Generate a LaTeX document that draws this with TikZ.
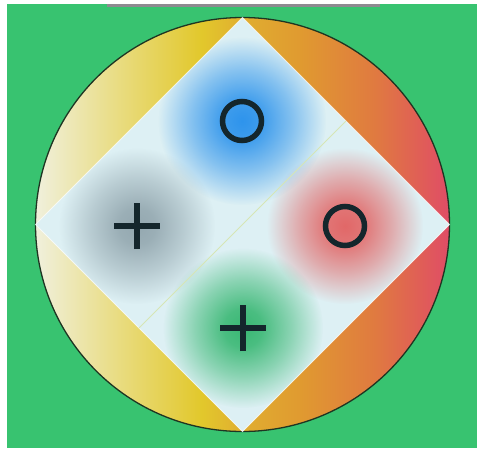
\documentclass[tikz,border=0pt]{standalone}
\usetikzlibrary{fadings,calc}
\definecolor{bg}{HTML}{38C370}
\definecolor{barc}{HTML}{8E8A90}
\definecolor{rimc}{HTML}{1E3522}
\definecolor{diam}{HTML}{DDF0F4}
\definecolor{g1}{HTML}{F0F0DC}
\definecolor{g2}{HTML}{E8DA78}
\definecolor{g3}{HTML}{E2C82C}
\definecolor{g4}{HTML}{E0AE30}
\definecolor{g5}{HTML}{E09A30}
\definecolor{g6}{HTML}{E07A40}
\definecolor{g7}{HTML}{E04C66}
\definecolor{blueg}{HTML}{2E94EC}
\definecolor{grayg}{HTML}{94A8B0}
\definecolor{redg}{HTML}{E26868}
\definecolor{greeng}{HTML}{3AB874}
\definecolor{symc}{HTML}{14262C}
\definecolor{splitc}{HTML}{D6E6B4}
\pgfdeclarehorizontalshading{circgrad}{100bp}{color(0bp)=(g1); color(25bp)=(g1); color(36bp)=(g2); color(45bp)=(g3); color(50bp)=(g4); color(57bp)=(g5); color(66bp)=(g6); color(75bp)=(g7); color(100bp)=(g7)}
\pgfdeclareradialshading{glowsh}{\pgfpointorigin}{color(0bp)=(pgftransparent!0); color(6bp)=(pgftransparent!10); color(15bp)=(pgftransparent!50); color(25bp)=(pgftransparent!100); color(50bp)=(pgftransparent!100)}
\pgfdeclarefading{glow}{\pgfuseshading{glowsh}}
\tikzset{
  ringsym/.style={circle, draw=symc, line width=5.5pt, minimum size=39pt, inner sep=0pt},
  plusarm/.style={draw=symc, line width=6pt},
  glowfill/.style={path fading=glow, fit fading=true}
}
\begin{document}
\begin{tikzpicture}[x=1pt,y=-1pt]
\useasboundingbox (0,0) rectangle (477,448);
\fill[white] (0,0) rectangle (477,448);
\fill[bg] (7,4) rectangle (477,448);
\fill[barc] (107,4) rectangle (380,7);
\coordinate (C) at (242.5,224.5);
\coordinate (T) at (242.5,17.5);
\coordinate (R) at (449.5,224.5);
\coordinate (B) at (242.5,431.5);
\coordinate (L) at (35.5,224.5);
\shade[shading=circgrad] (C) circle (207);
\draw[rimc, line width=1.3pt] (C) circle (207);
\fill[diam] (T) -- (R) -- (B) -- (L) -- cycle;
\begin{scope}
  \clip (T) -- (R) -- (B) -- (L) -- cycle;
  \coordinate (gB) at (242,121);
  \coordinate (gG) at (137,226);
  \coordinate (gR) at (345,226);
  \coordinate (gN) at (243,328);
  \fill[blueg, glowfill] (gB) circle (84);
  \fill[grayg, glowfill] (gG) circle (78);
  \fill[redg, glowfill] (gR) circle (78);
  \fill[greeng, glowfill] (gN) circle (80);
\end{scope}
\draw[white, line width=1pt, opacity=0.7] (T) -- (R) -- (B) -- (L) -- cycle;
\coordinate (s1) at ($(T)!0.5!(R)$);
\coordinate (s2) at ($(L)!0.5!(B)$);
\draw[splitc, line width=1pt] (s1) -- (s2);
\node[ringsym] (o1) at (gB) {};
\node[ringsym] (o2) at (gR) {};
\draw[plusarm] ([xshift=-23pt]gG) -- ([xshift=23pt]gG);
\draw[plusarm] ([yshift=-23pt]gG) -- ([yshift=23pt]gG);
\draw[plusarm] ([xshift=-23pt]gN) -- ([xshift=23pt]gN);
\draw[plusarm] ([yshift=-23pt]gN) -- ([yshift=23pt]gN);
\end{tikzpicture}
\end{document}
